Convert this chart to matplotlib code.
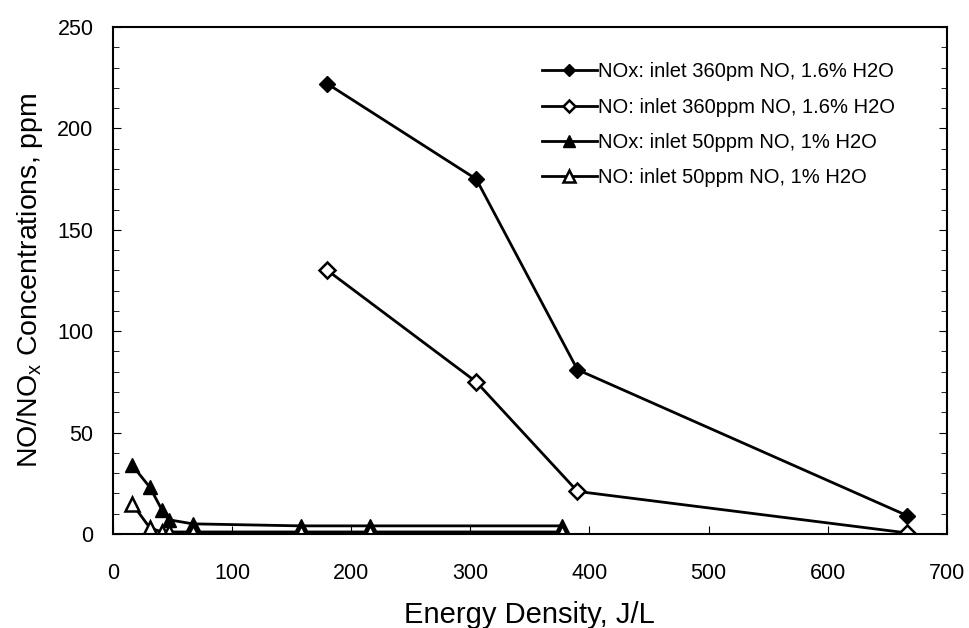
import matplotlib
matplotlib.use('Agg')
import matplotlib.pyplot as plt
from matplotlib.ticker import MultipleLocator

plt.rcParams['font.family'] = ['Liberation Sans', 'DejaVu Sans']

# NOx / NO, inlet 360 ppm NO, 1.6% H2O
e_360 = [180, 305, 390, 667]
nox_360 = [222, 175, 81, 9]
no_360 = [130, 75, 21, 0.5]

# NOx / NO, inlet 50 ppm NO, 1% H2O
e_50 = [16, 31, 41, 47, 67, 158, 216, 377]
nox_50 = [34, 23, 12, 7, 5, 4, 4, 4]
no_50 = [15, 3, 1, 1, 1, 1, 1, 1]

labels = ['NOx: inlet 360pm NO, 1.6% H2O',
          'NO: inlet 360ppm NO, 1.6% H2O',
          'NOx: inlet 50ppm NO, 1% H2O',
          'NO: inlet 50ppm NO, 1% H2O']

fig = plt.figure(figsize=(9.69, 6.28), dpi=100)
ax = fig.add_axes([0.1166, 0.1497, 0.8604, 0.8073])

ax.plot(e_360, nox_360, '-D', color='black', lw=2, ms=8, mfc='black', label=labels[0])
ax.plot(e_360, no_360, '-D', color='black', lw=2, ms=8, mfc='white', mew=1.8, label=labels[1])
ax.plot(e_50, nox_50, '-^', color='black', lw=2, ms=10, mfc='black', label=labels[2])
ax.plot(e_50, no_50, '-^', color='black', lw=2, ms=10, mfc='white', mew=1.8, label=labels[3])

ax.set_xlim(0, 700)
ax.set_ylim(0, 250)
ax.xaxis.set_major_locator(MultipleLocator(100))
ax.yaxis.set_major_locator(MultipleLocator(50))
ax.yaxis.set_minor_locator(MultipleLocator(10))
ax.tick_params(which='both', direction='in', right=True, labelsize=15.5)
ax.tick_params(which='major', length=6)
ax.tick_params(axis='x', which='major', pad=21)
ax.tick_params(axis='y', which='major', pad=14)
ax.tick_params(which='minor', length=4)
for s in ax.spines.values():
    s.set_linewidth(1.5)

ax.set_xlabel('Energy Density, J/L', fontsize=21, labelpad=12)
ax.set_ylabel('NO/NO$_\\mathregular{x}$ Concentrations, ppm', fontsize=20.5, labelpad=9)

ax.legend(loc='upper left', bbox_to_anchor=(0.514, 0.93), frameon=False, fontsize=14.5,
          borderpad=0, borderaxespad=0, handlelength=2.75, labelspacing=0.8,
          handletextpad=0.05, markerscale=0.8)

fig.savefig('out.png', dpi=100)
